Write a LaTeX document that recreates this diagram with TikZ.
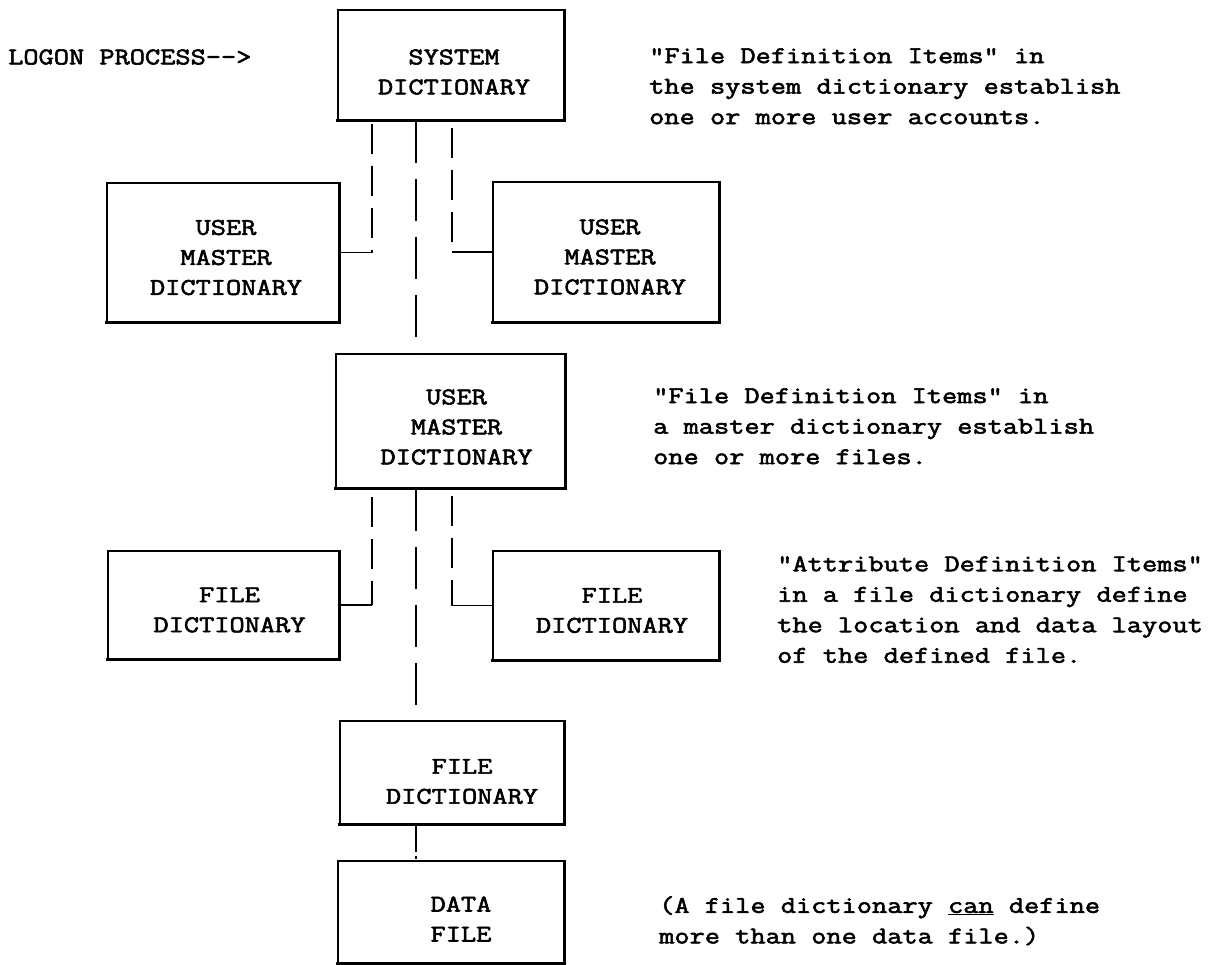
\documentclass[tikz,border=0pt]{standalone}
\usepackage{fontspec}
\newfontfamily\tw{Latin Modern Mono}[FakeStretch=1.23, FakeBold=2.4]
\usetikzlibrary{calc}

\begin{document}
\begin{tikzpicture}[x=1pt,y=-1pt,
  every node/.style={font=\tw\fontsize{24}{30}\selectfont},
  box/.style={draw, rectangle, line width=1.1pt, inner sep=0pt},
  boxtext/.style={align=center, inner sep=0pt},
  note/.style={align=left, anchor=north west, inner sep=0pt,
    font=\tw\fontsize{24}{30.5}\selectfont},
  conn/.style={line width=1.3pt, dash pattern=on 30pt off 12pt},
  trunk/.style={line width=2pt, dash pattern=on 42pt off 16pt},
  stub/.style={line width=1.3pt},
  link/.style={line width=2pt, dash pattern=on 27pt off 4pt on 3pt off 3pt},
  rim/.style={line width=2.2pt},
  base/.style={line width=3.5pt}
]
\useasboundingbox (0,0) rectangle (1212,964);

% dictionary hierarchy boxes
\node[box, minimum width=226pt, minimum height=110pt,
  label={[boxtext, shift={(3pt,-7pt)}]center:SYSTEM\\DICTIONARY}] (sys) at (451,65) {};
\node[box, minimum width=232pt, minimum height=139pt,
  label={[boxtext, shift={(3pt,-5pt)}]center:USER\\MASTER\\DICTIONARY}] (uml) at (223,252.5) {};
\node[box, minimum width=226pt, minimum height=140pt,
  label={[boxtext, shift={(4pt,-5pt)}]center:USER\\MASTER\\DICTIONARY}] (umr) at (606,252) {};
\node[box, minimum width=229pt, minimum height=134pt,
  label={[boxtext, shift={(6pt,-6pt)}]center:USER\\MASTER\\DICTIONARY}] (umm) at (450.5,421) {};
\node[box, minimum width=231pt, minimum height=108pt,
  label={[boxtext, shift={(6pt,-5pt)}]center:FILE\\DICTIONARY}] (fdl) at (223.5,605) {};
\node[box, minimum width=226pt, minimum height=109pt,
  label={[boxtext, shift={(6pt,-5pt)}]center:FILE\\DICTIONARY}] (fdr) at (606,605.5) {};
\node[box, minimum width=224pt, minimum height=103pt,
  label={[boxtext, shift={(10pt,-9pt)}]center:FILE\\DICTIONARY}] (fdb) at (452,772.5) {};
\node[box, minimum width=226pt, minimum height=102pt,
  label={[boxtext, shift={(10pt,-7pt)}]center:DATA\\FILE}] (data) at (451,912) {};

% heavier right and bottom edges
\foreach \b in {sys,uml,umr,umm,fdl,fdr,fdb,data}{
  \draw[rim] (\b.north east) -- (\b.south east);
  \draw[base] ([xshift=-1pt]\b.south west) -- ([xshift=1pt]\b.south east);
}

% connector columns
\coordinate (lx) at (372,0);
\coordinate (rx) at (452,0);
\coordinate (tx) at (416,0);

\draw[conn, shorten <=3pt] (sys.south -| lx) -- (uml.east -| lx);
\draw[stub] (uml.east -| lx) -- (uml.east);
\draw[conn, shorten <=7pt] (sys.south -| rx) -- (umr.west -| rx);
\draw[stub] (umr.west -| rx) -- (umr.west);
\draw[trunk] (sys.south -| tx) -- (umm.north -| tx);

\draw[conn, shorten <=8pt] (umm.south -| lx) -- (fdl.east -| lx);
\draw[stub] (fdl.east -| lx) -- (fdl.east);
\draw[conn, shorten <=7pt] (umm.south -| rx) -- (fdr.west -| rx);
\draw[stub] (fdr.west -| rx) -- (fdr.west);
\draw[trunk] (umm.south -| tx) -- (fdb.north -| tx);

\draw[link] (fdb.south -| tx) -- (data.north -| tx);

% captions
\node[note, anchor=west] (logon) at (8,57) {LOGON PROCESS-{}-{}>};
\node[note] (n1) at (649,48) {"File Definition Items" in\\the system dictionary establish\\one or more user accounts.};
\node[note] (n2) at (653,388) {"File Definition Items" in\\a master dictionary establish\\one or more files.};
\node[note] (n3) at (777,556) {"Attribute Definition Items"\\in a file dictionary define\\the location and data layout\\of the defined file.};
\node[note] (n4) at (659,896) {(A file dictionary \underline{can} define\\more than one data file.)};
\end{tikzpicture}
\end{document}
